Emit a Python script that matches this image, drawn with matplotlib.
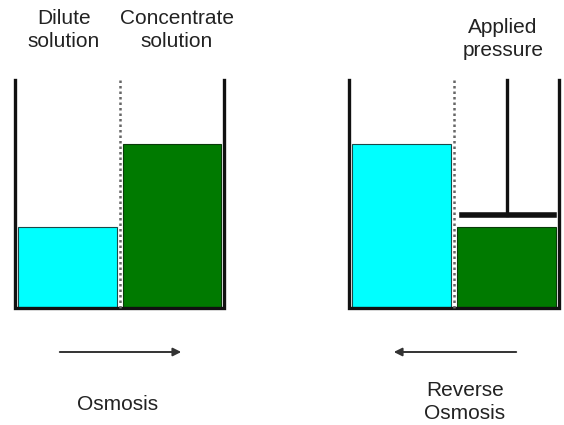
import matplotlib.pyplot as plt
from matplotlib.patches import Rectangle

plt.rcParams['font.family'] = ['Liberation Sans', 'DejaVu Sans']

# Beaker contents: liquid level (height above beaker floor, px)
panels = ['Osmosis', 'Reverse\nOsmosis']
dilute_level = [81, 164]       # cyan side
concentrate_level = [164, 81]  # green side
top_labels = ['Dilute\nsolution', 'Concentrate\nsolution', 'Applied\npressure']

fig = plt.figure(figsize=(5.64, 4.25), dpi=100)
ax = fig.add_axes([0, 0, 1, 1])
ax.set_xlim(0, 564)
ax.set_ylim(425, 0)
ax.axis('off')

floor = 308
top = 80
beakers = [(15, 120, 224), (349, 454, 559)]  # left wall, membrane, right wall
cyan = '#00FFFF'
green = '#007A00'

for i, (xl, xm, xr) in enumerate(beakers):
    # liquids
    ax.add_patch(Rectangle((xl + 3, floor - dilute_level[i]), xm - xl - 6, dilute_level[i],
                           facecolor=cyan, edgecolor='#1a4a4a', lw=0.8))
    ax.add_patch(Rectangle((xm + 3, floor - concentrate_level[i]), xr - xm - 6, concentrate_level[i],
                           facecolor=green, edgecolor='#0a3a0a', lw=0.8))
    # walls and floor
    ax.plot([xl, xl, xr, xr], [top, floor, floor, top], color='#111111', lw=2.4,
            solid_joinstyle='miter')
    # semipermeable membrane
    ax.plot([xm, xm], [top, floor], color='#666666', lw=1.8, ls=(0, (1, 1.2)))

# piston on the concentrate side of the second beaker
ax.plot([507, 507], [top, 215], color='#111111', lw=2.4)
ax.plot([462, 554], [215, 215], color='#111111', lw=4)

# flow arrows
ax.annotate('', xy=(184, 352), xytext=(57, 352),
            arrowprops=dict(arrowstyle='-|>', color='#333333', lw=1.4, mutation_scale=12))
ax.annotate('', xy=(391, 352), xytext=(519, 352),
            arrowprops=dict(arrowstyle='-|>', color='#333333', lw=1.4, mutation_scale=12))

txt = dict(fontsize=15, color='#222222', ha='center', va='center', linespacing=1.3)
ax.text(64, 30, top_labels[0], **txt)
ax.text(177, 30, top_labels[1], **txt)
ax.text(503, 39, top_labels[2], **txt)
ax.text(118, 404, panels[0], **txt)
ax.text(465, 402, panels[1], **txt)

fig.savefig('out.png', dpi=100, facecolor='white')
